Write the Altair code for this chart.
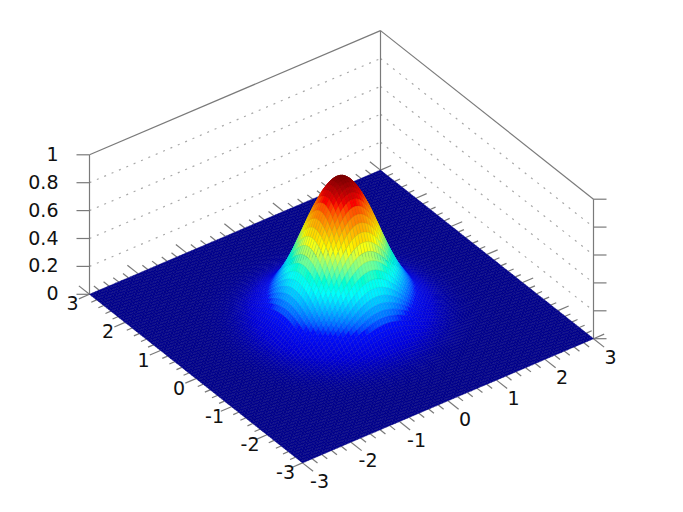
import altair as alt
import numpy as np
import pandas as pd

# Surface heights: profile along one axis, |t| = 0, 0.06, ... 3.0
profile = [1.0, .996, .983, .963, .934, .900, .859, .813, .763, .708, .650, .592, .535, .480, .428,
           .378, .332, .290, .252, .217, .184, .154, .129, .106, .087, .071, .057, .046, .036, .028,
           .022, .017, .013, .010, .0075, .0056, .0041, .0030, .0022, .0016, .0011,
           0, 0, 0, 0, 0, 0, 0, 0, 0, 0]
x_labels = [-3, -2, -1, 0, 1, 2, 3]
y_labels = [-3, -2, -1, 0, 1, 2, 3]
z_labels = ["0", "0.2", "0.4", "0.6", "0.8", "1"]
z_ticks = [0, .2, .4, .6, .8, 1]
jet_domain = [0, .03, .07, .17, .375, .625, .875, 1]
jet_range = ["#00008f", "#0000b4", "#0000dc", "#0010ff", "#00ffff", "#ffff00", "#ff0000", "#800000"]
jet_mesh = ["#05057c", "#05059c", "#0505c0", "#050ede", "#00dcdc", "#dcdc00", "#dc0000", "#6c0000"]

# view calibration (oblique parallel projection of the gnuplot-style box)
C0 = (341.5, 316.5)
UX = (48.5, -20.7)
UY = (-35.5, -28.1)
UZ = -139.5


def proj(x, y, z=0.0):
    return (C0[0] + UX[0] * x + UY[0] * y, C0[1] + UX[1] * x + UY[1] * y + UZ * z)


n = len(profile) - 1
idx = list(range(-n, n + 1))
step = 3.0 / n

features = []
for i in range(len(idx) - 2, -1, -1):
    for j in range(len(idx) - 2, -1, -1):
        corners = [(idx[i], idx[j]), (idx[i + 1], idx[j]), (idx[i + 1], idx[j + 1]), (idx[i], idx[j + 1])]
        zs = [profile[abs(a)] * profile[abs(b)] for a, b in corners]
        pts = [proj(a * step, b * step, z) for (a, b), z in zip(corners, zs)]
        ring = [[round(px - 8, 1), round(py - 8, 1)] for px, py in pts]
        ring.append(ring[0])
        features.append({"type": "Feature", "properties": {"z": round(float(np.mean(zs)), 3)},
                         "geometry": {"type": "Polygon", "coordinates": [ring]}})

segs = []


def seg(a, b, kind):
    segs.append({"x": a[0], "y": a[1], "x2": b[0], "y2": b[1], "kind": kind})


for k in range(31):
    t = round(-3 + 0.2 * k, 1)
    major = abs(t - round(t)) < 1e-6
    ly = 0.30 if major else 0.15
    lx = 0.22 if major else 0.11
    seg(proj(t, -3), proj(t, -3 - ly), "tick")
    seg(proj(t, 3), proj(t, 3 + ly), "tick")
    seg(proj(-3, t), proj(-3 - lx, t), "tick")
    seg(proj(3, t), proj(3 + lx, t), "tick")

left, back, right = (-3, 3), (3, 3), (3, -3)
for c in (left, back, right):
    seg(proj(*c, 0), proj(*c, 1), "frame")
seg(proj(*left, 1), proj(*back, 1), "frame")
seg(proj(*back, 1), proj(*right, 1), "frame")
for z in z_ticks:
    a, b, c = proj(*left, z), proj(*back, z), proj(*right, z)
    if 0 < z < 1:
        seg(a, b, "grid")
        seg(b, c, "grid")
    seg(a, (a[0] - 13, a[1]), "tick")
    seg(c, (c[0] + 13, c[1]), "tick")

seg_df = pd.DataFrame(segs)

texts = []
for v in x_labels:
    p = proj(v, -3)
    texts.append({"x": p[0] + 17, "y": p[1] + 19, "t": str(v), "a": "c"})
for v in y_labels:
    p = proj(-3, v)
    texts.append({"x": p[0] - 17, "y": p[1] + 10, "t": str(v), "a": "c"})
for z, s in zip(z_ticks, z_labels):
    p = proj(*left, z)
    texts.append({"x": p[0] - 31, "y": p[1], "t": s, "a": "r"})
text_df = pd.DataFrame(texts)

xs = alt.Scale(domain=[8, 675], range=[0, 667], nice=False, zero=False)
ys = alt.Scale(domain=[8, 504], range=[0, 496], nice=False, zero=False)
X = alt.X("x:Q", scale=xs, axis=None)
Y = alt.Y("y:Q", scale=ys, axis=None)


def rules(kind, **kw):
    return alt.Chart(seg_df[seg_df.kind == kind]).mark_rule(**kw).encode(x=X, y=Y, x2="x2:Q", y2="y2:Q")


surface = alt.Chart(alt.Data(values=features)).mark_geoshape(
    strokeWidth=0.45, clip=False
).encode(
    fill=alt.Fill("properties.z:Q", scale=alt.Scale(domain=jet_domain, range=jet_range), legend=None),
    stroke=alt.Stroke("properties.z:Q", scale=alt.Scale(domain=jet_domain, range=jet_mesh), legend=None),
).project(type="identity", scale=1, translate=[0, 0])


def labels(a, align):
    return alt.Chart(text_df[text_df.a == a]).mark_text(
        font="DejaVu Sans", fontSize=19, align=align, baseline="middle", color="#111111"
    ).encode(x=X, y=Y, text="t:N")


chart = alt.layer(
    rules("grid", color="#a8a8a8", strokeWidth=1.2, strokeDash=[2, 6]),
    rules("frame", color="#7a7a7a", strokeWidth=1.2),
    rules("tick", color="#7a7a7a", strokeWidth=1.2),
    surface,
    labels("c", "center"),
    labels("r", "right"),
).properties(
    width=667, height=496, padding=0, autosize=alt.AutoSizeParams(type="none"),
).configure_view(stroke=None)

chart.save("out.html", embed_options={"renderer": "svg", "actions": False})
